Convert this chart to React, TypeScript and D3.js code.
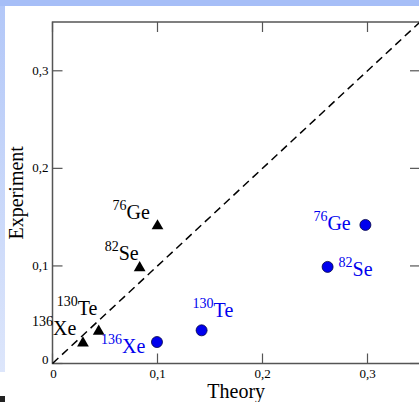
import React, { useRef, useEffect } from 'react';
import * as d3 from 'd3';

// experiment values (shared by both theory sets)
const nuclei = ['Ge', 'Se', 'Te', 'Xe'];
const massNumbers = ['76', '82', '130', '136'];
const experiment = [0.142, 0.099, 0.034, 0.022];
const theoryBlack = [0.1, 0.083, 0.044, 0.029];
const theoryBlue = [0.298, 0.262, 0.142, 0.0995];
const xTicks = [0, 0.1, 0.2, 0.3];
const yTicks = [0, 0.1, 0.2, 0.3];

// label offsets (px) from each marker
const blackOffsets = [[-45, -6], [-35, -7], [-42, -15], [-51, -7]];
const blueOffsets = [[-52, 5], [11, 9], [-9, -13], [-56, 11]];

const W = 419;
const H = 402;

function App() {
  const svgRef = useRef(null);

  useEffect(() => {
    const svg = d3.select(svgRef.current);
    svg.selectAll('*').remove();

    const left = 52.5, right = 420, top = 22, bottom = 363.5;
    const x = d3.scaleLinear().domain([0, 0.35]).range([left, right]);
    const y = d3.scaleLinear().domain([0, 0.35]).range([bottom, top]);
    const font = 'Times New Roman, Liberation Serif, serif';

    // slide-ish background bands
    svg.append('rect').attr('width', W).attr('height', H).attr('fill', '#fff');
    const grad = svg.append('defs').append('linearGradient')
      .attr('id', 'lg').attr('x1', 0).attr('x2', 0).attr('y1', 0).attr('y2', 1);
    grad.append('stop').attr('offset', '0%').attr('stop-color', '#b2c7f8');
    grad.append('stop').attr('offset', '100%').attr('stop-color', '#dde6fb');
    svg.append('rect').attr('x', 0).attr('y', 0).attr('width', 5).attr('height', 372).attr('fill', 'url(#lg)');
    svg.append('rect').attr('x', 0).attr('y', 0).attr('width', W).attr('height', 6).attr('fill', '#a6bef7');
    svg.append('rect').attr('x', 0).attr('y', 396).attr('width', 5).attr('height', 6).attr('fill', '#222');

    // frame
    svg.append('rect')
      .attr('x', left).attr('y', top)
      .attr('width', right - left).attr('height', bottom - top)
      .attr('fill', 'none').attr('stroke', '#555').attr('stroke-width', 1.5);

    const tickLen = 10;
    const g = svg.append('g').attr('stroke', '#555').attr('stroke-width', 1.2);
    xTicks.forEach(t => {
      g.append('line').attr('x1', x(t)).attr('x2', x(t)).attr('y1', bottom).attr('y2', bottom - tickLen);
      g.append('line').attr('x1', x(t)).attr('x2', x(t)).attr('y1', top).attr('y2', top + tickLen);
    });
    yTicks.forEach(t => {
      g.append('line').attr('x1', left).attr('x2', left + tickLen).attr('y1', y(t)).attr('y2', y(t));
      g.append('line').attr('x1', right).attr('x2', right - tickLen).attr('y1', y(t)).attr('y2', y(t));
    });

    const fmt = (t: number) => (t === 0 ? '0' : d3.format('.1f')(t).replace('.', ','));

    svg.selectAll('.xt').data(xTicks).enter().append('text')
      .attr('x', d => x(d) + (d === 0 ? 1 : 0)).attr('y', bottom + 14)
      .attr('text-anchor', 'middle').attr('font-family', font).attr('font-size', 13)
      .text(fmt);

    svg.selectAll('.yt').data(yTicks).enter().append('text')
      .attr('x', left - 4).attr('y', d => y(d) + 4 - (d === 0 ? 4 : 0))
      .attr('text-anchor', 'end').attr('font-family', font).attr('font-size', 13)
      .text(fmt);

    svg.append('text').attr('x', (left + right) / 2).attr('y', 398)
      .attr('text-anchor', 'middle').attr('font-family', font).attr('font-size', 20)
      .text('Theory');
    svg.append('text')
      .attr('transform', `translate(23,${(top + bottom) / 2}) rotate(-90)`)
      .attr('text-anchor', 'middle').attr('font-family', font).attr('font-size', 20)
      .text('Experiment');

    // diagonal
    svg.append('line')
      .attr('x1', x(0)).attr('y1', y(0)).attr('x2', x(0.35)).attr('y2', y(0.35))
      .attr('stroke', '#000').attr('stroke-width', 1.5).attr('stroke-dasharray', '8,5');

    const tri = d3.symbol().type(d3.symbolTriangle).size(60);
    svg.selectAll('.tri').data(nuclei).enter().append('path')
      .attr('d', tri)
      .attr('transform', (d, i) => `translate(${x(theoryBlack[i])},${y(experiment[i]) + 1})`)
      .attr('fill', '#000');

    svg.selectAll('.dot').data(nuclei).enter().append('circle')
      .attr('cx', (d, i) => x(theoryBlue[i])).attr('cy', (d, i) => y(experiment[i]))
      .attr('r', 5.5).attr('fill', '#0000ee').attr('stroke', '#000044').attr('stroke-width', 0.8);

    const addLabels = (theory: number[], offsets: number[][], color: string) => {
      nuclei.forEach((n, i) => {
        const t = svg.append('text')
          .attr('x', x(theory[i]) + offsets[i][0])
          .attr('y', y(experiment[i]) + offsets[i][1])
          .attr('font-family', font).attr('fill', color);
        t.append('tspan').attr('font-size', 14).attr('dy', -9).text(massNumbers[i]);
        t.append('tspan').attr('font-size', 20).attr('dy', 9).text(n);
      });
    };
    addLabels(theoryBlack, blackOffsets, '#000');
    addLabels(theoryBlue, blueOffsets, '#0000ee');
  }, []);

  return (
    <svg ref={svgRef} width={W} height={H}
      style={{ position: 'absolute', left: 0, top: 0 }}>
    </svg>
  );
}

export default App;
